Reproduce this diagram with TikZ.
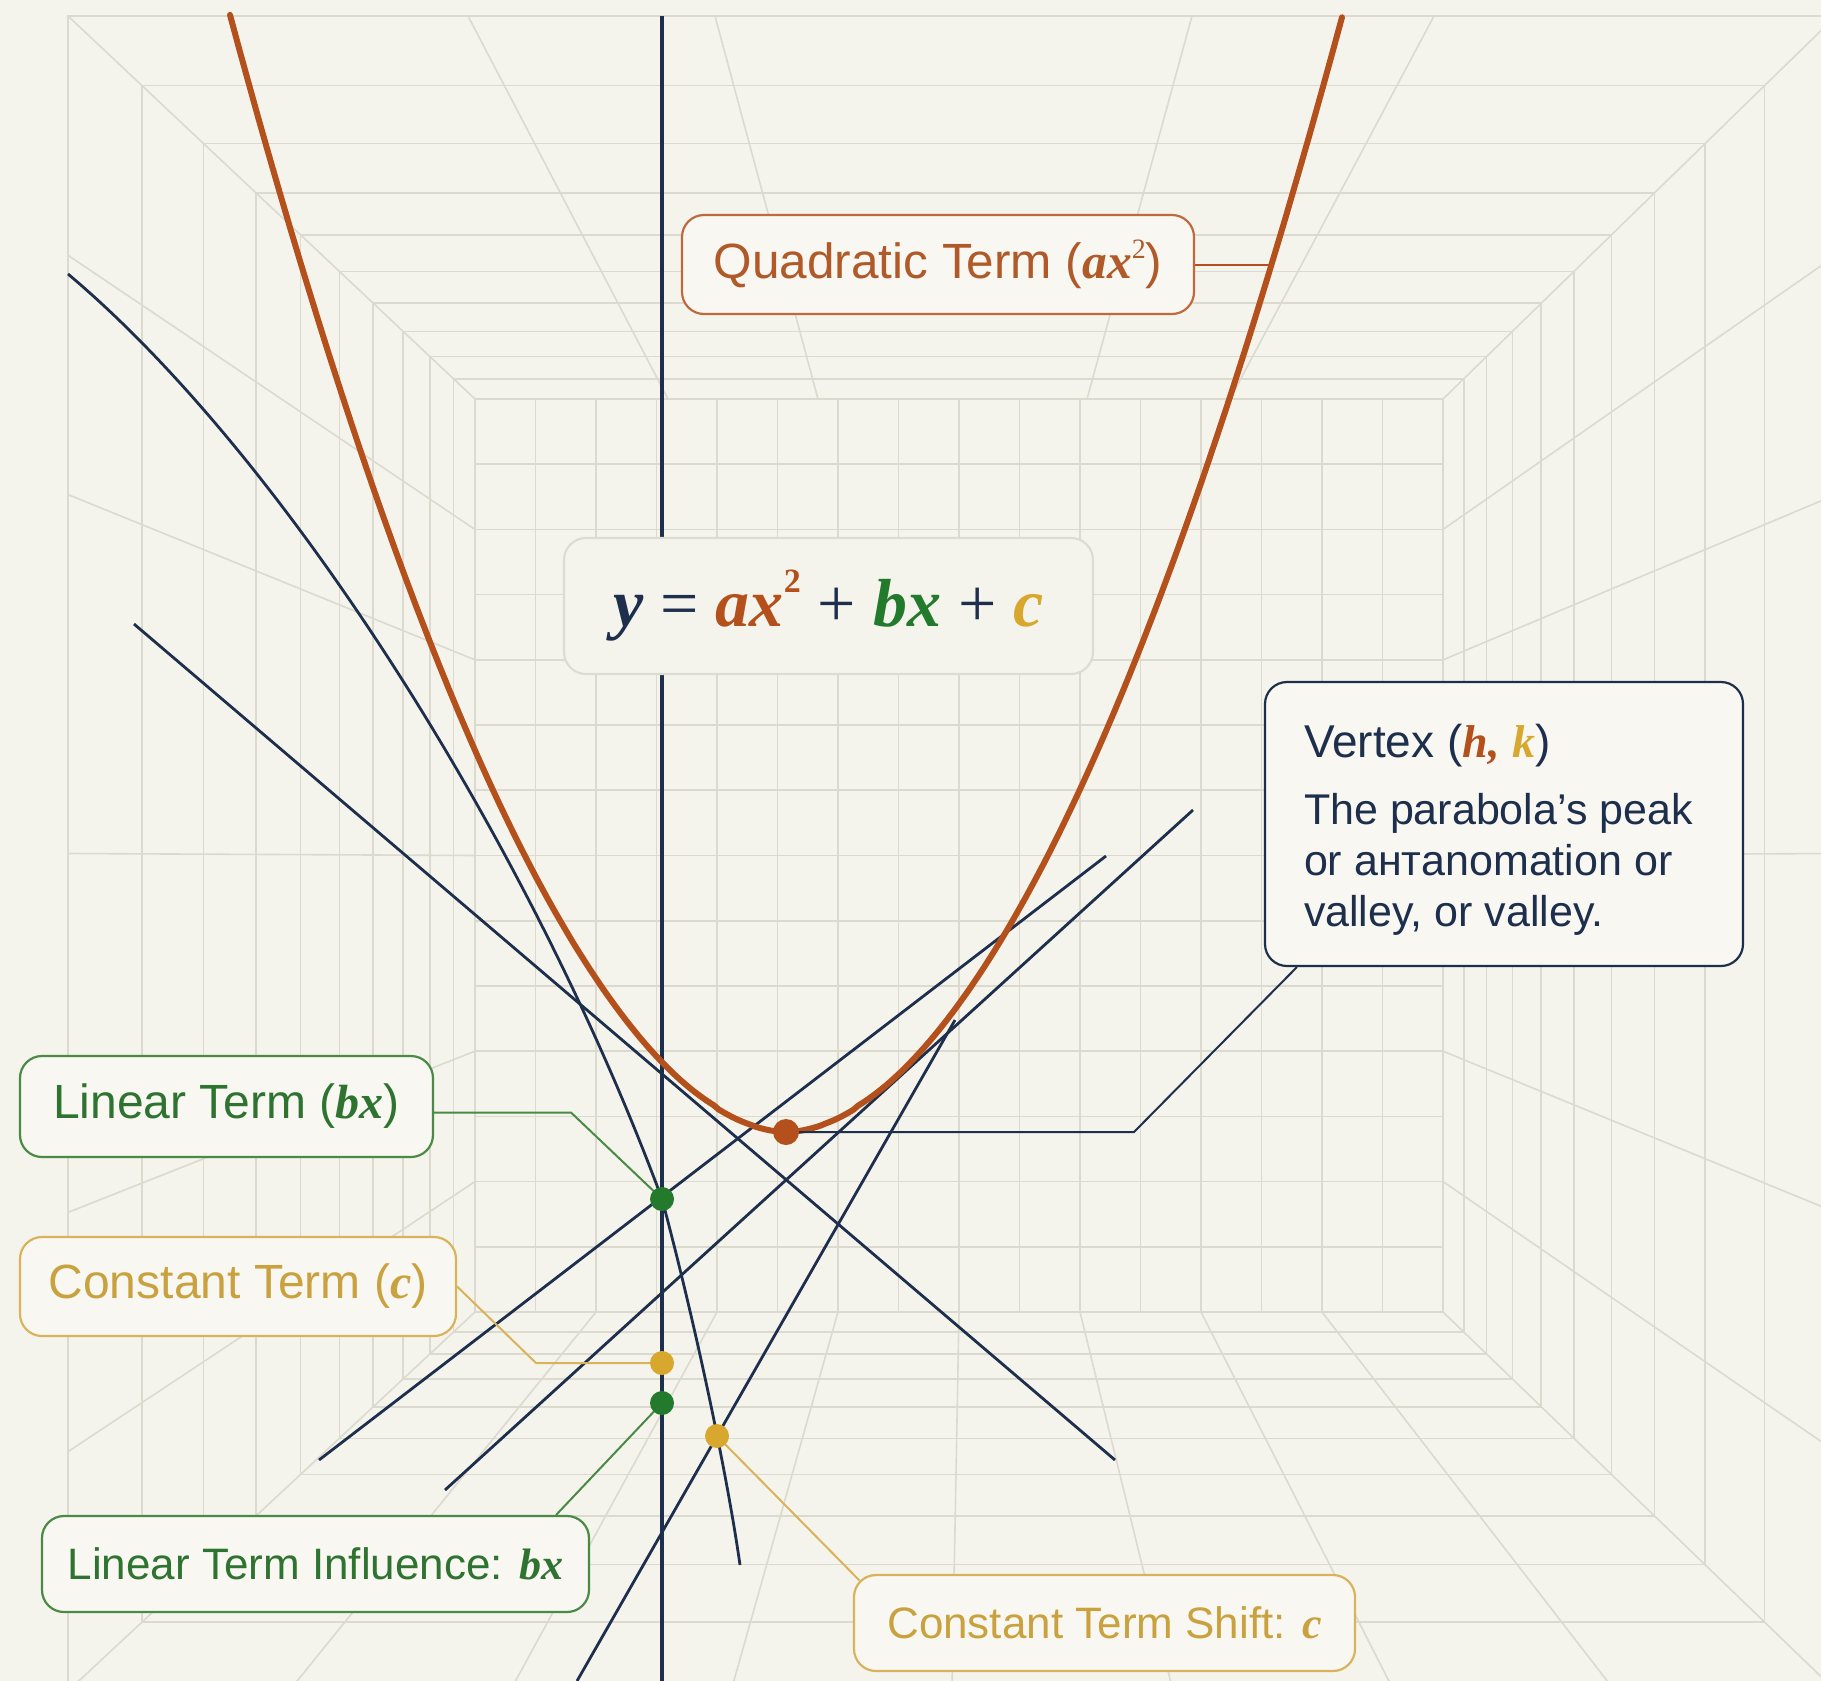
\documentclass[tikz,border=0pt]{standalone}
\usepackage{fontspec}
\setmainfont{Liberation Sans}
\newfontfamily\eqfont{Liberation Serif}
\usetikzlibrary{calc}
\definecolor{bg}{HTML}{F5F4EC}
\definecolor{boxfill}{HTML}{F8F7F1}
\definecolor{gridc}{HTML}{DCD9CE}
\definecolor{navy}{HTML}{1D2F4D}
\definecolor{rust}{HTML}{B4501B}
\definecolor{rusttxt}{HTML}{B05A2A}
\definecolor{grn}{HTML}{237A2C}
\definecolor{grntxt}{HTML}{2F7331}
\definecolor{grnline}{HTML}{4A8A46}
\definecolor{gold}{HTML}{D8A82E}
\definecolor{goldtxt}{HTML}{C9A23F}
\definecolor{goldline}{HTML}{D9B35C}
\definecolor{eqline}{HTML}{DEDCD2}
\newcommand\mv[1]{{\eqfont\bfseries\itshape #1}}
\newcommand\lab{\fontsize{48}{56}\selectfont}
\newcommand\labq{\fontsize{49.5}{56}\selectfont}
\newcommand\labs{\fontsize{44}{52}\selectfont}
\begin{document}
\begin{tikzpicture}[x=1pt,y=-1pt,
  gridline/.style={draw=gridc, line width=1.6pt},
  navyline/.style={draw=navy, line width=2.8pt},
  parab/.style={draw=rust, line width=6pt, line cap=round},
  lbl/.style={draw, line width=2.2pt, rounded corners=22pt, fill=boxfill, inner sep=0pt},
  conn/.style={line width=2pt},
  dotn/.style={circle, inner sep=0pt, minimum size=24pt}]
\useasboundingbox (0,0) rectangle (1821,1681);
\fill[bg] (0,0) rectangle (1821,1681);
\begin{scope}
\clip (0,0) rectangle (1821,1681);
% perspective room
\foreach \d in {0,...,10}{
  \pgfmathsetmacro\ff{2*\d/(10+\d)}
  \pgfmathsetmacro\xl{68+\ff*407}
  \pgfmathsetmacro\yt{16+\ff*383}
  \pgfmathsetmacro\xr{1836-\ff*393}
  \pgfmathsetmacro\yb{1691-\ff*379}
  \draw[gridline] (\xl,\yt) rectangle (\xr,\yb);
}
\foreach \k in {1,...,15}{\pgfmathsetmacro\xx{475+\k*60.5}
  \draw[gridline] (\xx,399) -- (\xx,1312);}
\foreach \k in {1,...,13}{\pgfmathsetmacro\yy{399+\k*65.214}
  \draw[gridline] (475,\yy) -- (1443,\yy);}
\draw[gridline] (68,16) -- (475,399) (1836,16) -- (1443,399)
  (68,1691) -- (475,1312) (1836,1691) -- (1443,1312);
\draw[gridline] (468,16) -- (668,399) (715,16) -- (818,399)
  (1192,16) -- (1087,399) (1434,16) -- (1230,399);
\foreach \k in {2,4,...,14}{\pgfmathsetmacro\xb{475+\k*60.5}
  \pgfmathsetmacro\xo{68+(\xb-475)*1.8264}
  \draw[gridline] (\xb,1312) -- (\xo,1691);}
\foreach \k in {2,4,7,10,12}{\pgfmathsetmacro\yb{399+\k*65.214}
  \pgfmathsetmacro\yo{16+(\yb-399)*1.8346}
  \draw[gridline] (68,\yo) -- (475,\yb) (1836,\yo) -- (1443,\yb);}
% navy lines
\draw[navyline] (68,274) .. controls (288,459) and (532,848) .. (662,1199)
  .. controls (697,1330) and (728,1480) .. (740,1565);
\draw[navyline] (134,624) -- (1115,1460);
\draw[navyline] (319,1460) -- (1106,856);
\draw[navyline] (445,1490) -- (1193,810);
\draw[navyline] (577,1681) -- (955,1020);
\draw[navy, line width=3.2pt] (662,16) -- (662,1681);
% parabola
\draw[parab] plot[domain=230:1342, samples=240] (\x,{1132-1116*pow(abs(\x-786.3)/556,1.85)});
\end{scope}
% points
\coordinate (qp) at (1271,264.5);
\coordinate (g1) at (662,1199);
\coordinate (vx) at (786,1132);
\coordinate (y1) at (662,1363);
\coordinate (g2) at (662,1403);
\coordinate (y2) at (717,1436);
% boxes
\node[lbl, draw=rust!85!white, text=rusttxt, minimum width=512pt, minimum height=99pt] (qbox) at (938,264.5)
  {\labq Quadratic Term (\mv{ax}{\eqfont\fontsize{28}{28}\selectfont\raisebox{0.7em}{2}})};
\node[lbl, draw=eqline, fill=bg, minimum width=529pt, minimum height=136pt] (eqbox) at (828.5,606)
  {\fontsize{68}{80}\selectfont\eqfont
   {\bfseries\itshape\color{navy}y} {\color{navy}=} {\bfseries\itshape\color{rust}ax\raisebox{0.5em}{\fontsize{34}{34}\selectfont\upshape 2}} {\color{navy}+} {\bfseries\itshape\color{grn}bx} {\color{navy}+} {\bfseries\itshape\color{gold}c}};
\node[lbl, draw=navy, text=navy, minimum width=478pt, minimum height=284pt] (vbox) at (1504,824)
  {\makebox[400pt][l]{\fontsize{43}{51}\selectfont\begin{tabular}{@{}l@{}}
   \rule{0pt}{52pt}{\fontsize{46}{54}\selectfont Vertex (\mv{\color{rust}h,} \mv{\color{gold}k})}\\[16pt]
   The parabola's peak\\ or aнтanomation or\\ valley, or valley.\end{tabular}}};
\node[lbl, draw=grnline, text=grntxt, minimum width=413pt, minimum height=101pt] (lbox) at (226.5,1106.5)
  {\lab Linear Term (\mv{bx})};
\node[lbl, draw=goldline, text=goldtxt, minimum width=436pt, minimum height=99pt] (cbox) at (238,1286.5)
  {\lab Constant Term (\mv{c})};
\node[lbl, draw=grnline, text=grntxt, minimum width=547pt, minimum height=96pt] (ibox) at (315.5,1564)
  {\labs Linear Term Influence: \mv{bx}};
\node[lbl, draw=goldline, text=goldtxt, minimum width=501pt, minimum height=96pt] (sbox) at (1104.5,1623)
  {\labs Constant Term Shift: \mv{c}};
% connectors
\draw[conn, rust] (qbox.east) -- (qp);
\draw[conn, grnline] ($(lbox.east)+(0,6)$) -- (571,1112.5) -- (g1);
\draw[conn, goldline] (cbox.east) -- (536,1363) -- (y1);
\draw[conn, grnline] ($(ibox.north east)+(-34,0)$) -- (g2);
\draw[conn, goldline] (y2) -- ($(sbox.north west)+(6.5,6.5)$);
\draw[conn, navy] (vx) -- (1134,1132) -- ($(vbox.south west)+(33,0)$);
% dots
\node[dotn, fill=grn] (g1dot) at (g1) {};
\node[dotn, fill=rust, minimum size=26pt] (vxdot) at (vx) {};
\node[dotn, fill=gold] (y1dot) at (y1) {};
\node[dotn, fill=grn] (g2dot) at (g2) {};
\node[dotn, fill=gold] (y2dot) at (y2) {};
\end{tikzpicture}
\end{document}
